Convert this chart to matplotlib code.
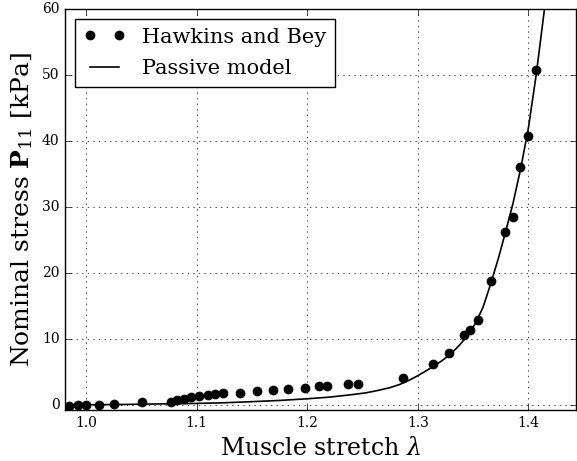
import numpy as np
import matplotlib
matplotlib.use("Agg")
import matplotlib.pyplot as plt

plt.style.use("classic")
plt.rcParams['mathtext.fontset'] = 'dejavuserif'
plt.rc('font', family='serif', size=10)
plt.rcParams['font.serif'] = ['DejaVu Serif']

# Hawkins and Bey experimental data (stretch, stress kPa)
lam_exp = [0.985, 0.993, 1.000, 1.012, 1.025, 1.051, 1.077, 1.082, 1.089, 1.095,
           1.102, 1.110, 1.117, 1.124, 1.139, 1.155, 1.169, 1.183, 1.198, 1.211,
           1.218, 1.237, 1.246, 1.287, 1.314, 1.328, 1.342, 1.347, 1.354, 1.366,
           1.379, 1.386, 1.392, 1.400, 1.407]
P_exp = [-0.15, -0.1, -0.05, 0.0, 0.1, 0.35, 0.45, 0.75, 0.9, 1.1,
         1.25, 1.55, 1.7, 1.8, 1.85, 2.1, 2.3, 2.45, 2.6, 2.8,
         2.9, 3.1, 3.1, 4.1, 6.2, 7.8, 10.6, 11.3, 12.9, 18.8,
         26.2, 28.5, 36.1, 40.7, 50.7]

# passive model curve
lam_model = [0.98, 1.0, 1.03, 1.058, 1.08, 1.10, 1.125, 1.148, 1.175, 1.20,
             1.22, 1.239, 1.253, 1.265, 1.275, 1.284, 1.292, 1.30, 1.307,
             1.314, 1.322, 1.329, 1.337, 1.344, 1.352, 1.359, 1.366, 1.373,
             1.379, 1.386, 1.393, 1.400, 1.407, 1.4145, 1.42]
P_model = [0.0, 0.0, 0.03, 0.1, 0.15, 0.2, 0.3, 0.45, 0.65, 0.9,
           1.15, 1.5, 1.8, 2.2, 2.6, 3.1, 3.7, 4.4, 5.1,
           5.8, 6.7, 7.6, 8.9, 10.3, 12.3, 14.8, 18.4, 22.3,
           26.0, 30.5, 35.8, 42.0, 50.0, 60.0, 68.0]

fig = plt.figure(figsize=(5.77, 4.61), dpi=100)
ax = fig.add_axes([65/577, 51/461, 511/577, 401/461])

ax.plot(lam_exp, P_exp, 'ko', ms=6.5, label='Hawkins and Bey')
ax.plot(lam_model, P_model, 'k-', lw=1.2, label='Passive model')

ax.set_xlim(0.981, 1.443)
ax.set_ylim(-0.8, 60)
ax.set_xticks([1.0, 1.1, 1.2, 1.3, 1.4])
ax.set_yticks([0, 10, 20, 30, 40, 50, 60])
ax.grid(True)
ax.set_xlabel(r'Muscle stretch $\lambda$', fontsize=17)
ax.set_ylabel(r'Nominal stress $\mathbf{P}_{11}$ [kPa]', fontsize=18)
ax.legend(loc='upper left', fontsize=15, numpoints=2, labelspacing=0.6)

fig.savefig("out.png", dpi=100)
